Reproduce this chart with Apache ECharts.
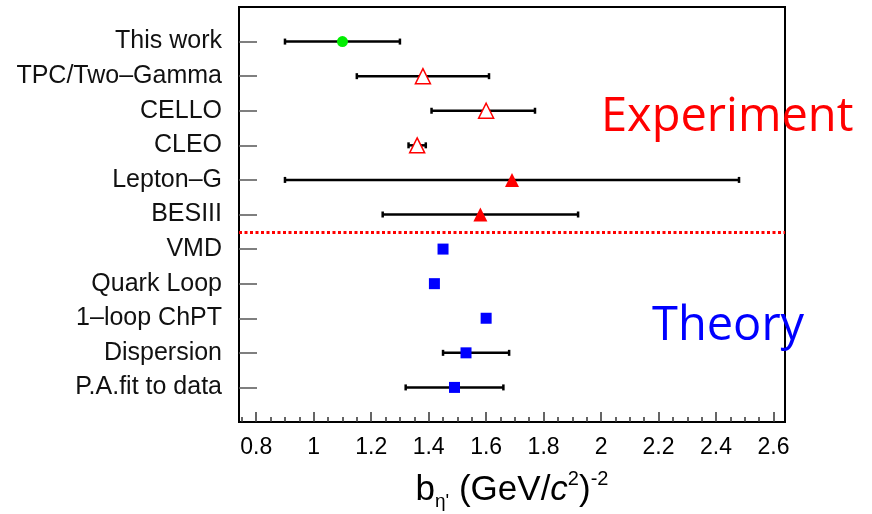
<!DOCTYPE html>
<html>
<head>
<meta charset="utf-8">
<script src="https://cdn.jsdelivr.net/npm/echarts@6/dist/echarts.min.js"></script>
<style>
  html, body { margin: 0; padding: 0; background: #fff; }
  #main { width: 872px; height: 514px; }
</style>
</head>
<body>
<div id="main"></div>
<script>
// rows, top to bottom
var rowNames = ['This work', 'TPC/Two\u2013Gamma', 'CELLO', 'CLEO', 'Lepton\u2013G', 'BESIII',
                'VMD', 'Quark Loop', '1\u2013loop ChPT', 'Dispersion', 'P.A.fit to data'];
var centers = [1.10, 1.38, 1.60, 1.36, 1.69, 1.58, 1.45, 1.42, 1.60, 1.53, 1.49];
var errLow  = [0.90, 1.15, 1.41, 1.33, 0.90, 1.24, null, null, null, 1.45, 1.32];
var errHigh = [1.30, 1.61, 1.77, 1.39, 2.48, 1.92, null, null, null, 1.68, 1.66];

// which rows get which marker
var thisWorkRows = [0];
var openTriRows = [1, 2, 3];
var fullTriRows = [4, 5];
var theoryRows = [6, 7, 8, 9, 10];

var splitAt = 6.5; // experiment / theory separator

var xTicks = [0.8, 1.0, 1.2, 1.4, 1.6, 1.8, 2.0, 2.2, 2.4, 2.6];
var xTickLabels = ['0.8', '1', '1.2', '1.4', '1.6', '1.8', '2', '2.2', '2.4', '2.6'];

var minorTicks = [];
for (var t = 0.75; t < 2.64; t += 0.05) minorTicks.push(Math.round(t * 100) / 100);

var rowPos = rowNames.map(function (n, i) { return i + 1; });

var pts = function (rows) {
    return rows.map(function (i) { return [centers[i], i + 1]; });
};

var errData = [];
for (var i = 0; i < rowNames.length; i++) {
    if (errLow[i] != null) errData.push([errLow[i], errHigh[i], i + 1]);
}

var FONT = 'Liberation Sans';
var XMIN = 0.74, XMAX = 2.64;
var chart = echarts.init(document.getElementById('main'));

// extra bottom axis used only to draw a set of inside ticks
var tickAxis = function (vals, len) {
    return {
        type: 'value', min: XMIN, max: XMAX, position: 'bottom',
        axisLine: { show: false },
        axisTick: { show: true, inside: true, length: len, customValues: vals,
                    lineStyle: { color: '#333', width: 1.5 } },
        axisLabel: { show: false },
        splitLine: { show: false }
    };
};

var option = {
    backgroundColor: '#fff',
    animation: false,
    grid: {
        left: 239, right: 87, top: 7, bottom: 92, containLabel: false, outerBoundsMode: 'none',
        show: true, borderColor: '#000', borderWidth: 2
    },
    xAxis: [{
        type: 'value', min: XMIN, max: XMAX, position: 'bottom',
        axisLine: { show: true, lineStyle: { color: '#000', width: 2 } },
        axisTick: { show: false },
        axisLabel: {
            customValues: xTicks, margin: 14, color: '#000', fontSize: 23, fontFamily: FONT,
            formatter: function (v) {
                var k = xTicks.indexOf(Math.round(v * 100) / 100);
                return k >= 0 ? xTickLabels[k] : '';
            }
        },
        splitLine: { show: false },
        name: '{b|b}{s|\u03b7\'}{m| (GeV/}{i|c}{p|2}{m|)}{p|-2}',
        nameLocation: 'middle',
        nameGap: 47,
        nameTextStyle: {
            fontFamily: FONT, color: '#000',
            rich: {
                b: { fontSize: 35, lineHeight: 42, fontFamily: FONT, color: '#000' },
                m: { fontSize: 35, lineHeight: 42, fontFamily: FONT, color: '#000' },
                i: { fontSize: 35, lineHeight: 42, fontFamily: FONT, fontStyle: 'italic', color: '#000' },
                s: { fontSize: 19, lineHeight: 19, verticalAlign: 'bottom', fontFamily: FONT, color: '#000' },
                p: { fontSize: 20, lineHeight: 20, verticalAlign: 'top', fontFamily: FONT, color: '#000' }
            }
        }
    }, tickAxis(xTicks, 10), tickAxis(minorTicks, 5)],
    yAxis: {
        type: 'value', min: 0, max: 12, inverse: true,
        axisLine: { show: true, lineStyle: { color: '#000', width: 2 } },
        axisTick: { show: true, inside: true, length: 18, customValues: rowPos,
                    lineStyle: { color: '#555', width: 1.5 } },
        axisLabel: {
            customValues: rowPos,
            margin: 17, color: '#111', fontSize: 25, fontFamily: FONT,
            formatter: function (v) { return rowNames[Math.round(v) - 1] || ''; }
        },
        splitLine: { show: false }
    },
    graphic: [
        { type: 'text', x: 601, y: 118, z: 100,
          style: { text: 'Experiment', fill: '#ff0000', font: '47px "Open Sans"', verticalAlign: 'middle' } },
        { type: 'text', x: 652, y: 327, z: 100,
          style: { text: 'Theory', fill: '#0000ff', font: '47px "Open Sans"', verticalAlign: 'middle' } }
    ],
    series: [{
        type: 'custom',
        z: 2,
        data: errData,
        encode: { x: [0, 1], y: 2 },
        renderItem: function (params, api) {
            var y = api.value(2);
            var a = api.coord([api.value(0), y]);
            var b = api.coord([api.value(1), y]);
            var cap = 3;
            var st = { stroke: '#000', lineWidth: 2.5 };
            return {
                type: 'group',
                children: [
                    { type: 'line', shape: { x1: a[0], y1: a[1], x2: b[0], y2: b[1] }, style: st },
                    { type: 'line', shape: { x1: a[0], y1: a[1] - cap, x2: a[0], y2: a[1] + cap }, style: st },
                    { type: 'line', shape: { x1: b[0], y1: b[1] - cap, x2: b[0], y2: b[1] + cap }, style: st }
                ]
            };
        },
        markLine: {
            silent: true, symbol: 'none', label: { show: false },
            lineStyle: { color: '#ff0000', width: 3, type: [3, 2.5] },
            data: [{ yAxis: splitAt }]
        }
    }, {
        type: 'scatter', z: 5, symbol: 'circle', symbolSize: 11,
        itemStyle: { color: '#00ee00', opacity: 1 },
        data: pts(thisWorkRows)
    }, {
        type: 'scatter', z: 5, symbol: 'triangle', symbolSize: [15, 15],
        itemStyle: { color: '#fff', borderColor: '#ff0000', borderWidth: 1.5, opacity: 1 },
        data: pts(openTriRows)
    }, {
        type: 'scatter', z: 5, symbol: 'triangle', symbolSize: [14, 14],
        itemStyle: { color: '#ff0000', opacity: 1 },
        data: pts(fullTriRows)
    }, {
        type: 'scatter', z: 5, symbol: 'rect', symbolSize: 11,
        itemStyle: { color: '#0000ff', opacity: 1 },
        data: pts(theoryRows)
    }]
};

chart.setOption(option);
</script>
</body>
</html>
